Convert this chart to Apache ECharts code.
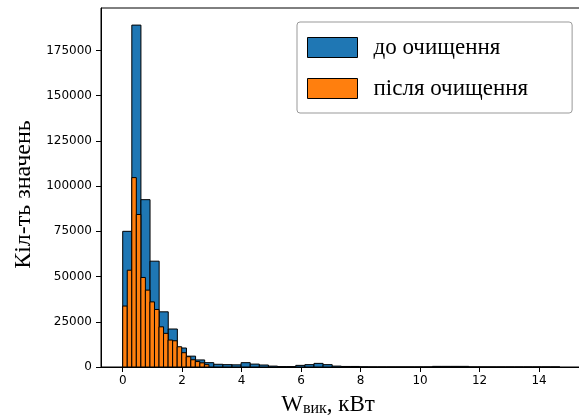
<!DOCTYPE html>
<html>
<head>
<meta charset="utf-8">
<title>Гістограма</title>
<script src="https://cdn.jsdelivr.net/npm/echarts@6/dist/echarts.min.js"></script>
<style>
	html, body { margin: 0; padding: 0; background: #fff; }
	#chart { width: 579px; height: 415px; }
</style>
</head>
<body>
<div id="chart"></div>
<script>
	// ширина кошиків гістограми, кВт
	var blueBinWidth = 0.30625;
	var orangeBinWidth = 0.1526;

	// до очищення
	var blueCounts = [75000, 189000, 92500, 58500, 30500, 21000, 10500, 6000, 3900, 2400,
		1500, 1300, 1200, 2400, 1600, 1100, 500, 200, 200, 900,
		1300, 2000, 1300, 500, 300, 300, 50, 0, 0, 0,
		0, 0, 0, 0, 350, 350, 350, 350, 0, 0,
		0, 0, 0, 0, 0, 0, 0, 0];
	// після очищення
	var orangeCounts = [33700, 53500, 104700, 84300, 49500, 42500, 36000, 31800, 22200, 18600,
		14900, 14500, 11200, 7900, 5700, 4000, 3000, 2300, 1300];

	var xTicks = [0, 2, 4, 6, 8, 10, 12, 14];
	var yTicks = [0, 25000, 50000, 75000, 100000, 125000, 150000, 175000];

	function bins(counts, w) {
		var out = [];
		for (var i = 0; i < counts.length; i++) {
			out.push([i * w, (i + 1) * w, counts[i]]);
		}
		return out;
	}

	function renderBin(params, api) {
		var p0 = api.coord([api.value(0), api.value(2)]);
		var p1 = api.coord([api.value(1), 0]);
		return {
			type: 'rect',
			shape: { x: p0[0], y: p0[1], width: p1[0] - p0[0], height: p1[1] - p0[1] },
			style: api.style({ stroke: '#000', lineWidth: 1 })
		};
	}

	var myChart = echarts.init(document.getElementById('chart'));

	var option = {
		animation: false,
		grid: {
			left: 101, right: -2, top: 8, bottom: 48,
			outerBoundsMode: 'none',
			containLabel: false,
			show: true, borderColor: '#000', borderWidth: 1
		},
		legend: {
			orient: 'vertical',
			left: 297, top: 22,
			padding: [14, 44, 13, 10],
			itemWidth: 50, itemHeight: 20, itemGap: 18,
			icon: 'rect',
			backgroundColor: '#fff',
			borderColor: '#999', borderWidth: 1, borderRadius: 3,
			textStyle: {
				fontFamily: 'Liberation Serif', fontSize: 23, color: '#000',
				lineHeight: 20, padding: [0, 0, 0, 11]
			},
			data: [
				{ name: 'до очищення', itemStyle: { color: '#1f77b4', borderColor: '#000', borderWidth: 1 } },
				{ name: 'після очищення', itemStyle: { color: '#ff7f0e', borderColor: '#000', borderWidth: 1 } }
			]
		},
		xAxis: {
			type: 'value',
			min: -0.73, max: 15.41,
			name: '{w|W}{s|вик}{r|, кВт}',
			nameLocation: 'middle',
			nameGap: 26,
			nameTextStyle: {
				padding: [0, 26, 0, 0],
				rich: {
					w: { fontFamily: 'Liberation Serif', fontSize: 23, color: '#000' },
					s: { fontFamily: 'Liberation Serif', fontSize: 16, color: '#000', verticalAlign: 'bottom', padding: [0, 0, -1, 0] },
					r: { fontFamily: 'Liberation Serif', fontSize: 23, color: '#000' }
				}
			},
			axisLine: { onZero: false, lineStyle: { color: '#000', width: 1 } },
			axisTick: { show: true, length: 5, customValues: xTicks, lineStyle: { color: '#000' } },
			axisLabel: { customValues: xTicks, margin: 8, fontFamily: 'DejaVu Sans', fontSize: 12, color: '#000' },
			splitLine: { show: false }
		},
		yAxis: {
			type: 'value',
			min: 0, max: 198450,
			name: 'Кіл-ть значень',
			nameLocation: 'middle',
			nameRotate: 90,
			nameGap: 63,
			nameTextStyle: { fontFamily: 'Liberation Serif', fontSize: 24, color: '#000', padding: [0, 14, 0, 0] },
			axisLine: { show: true, onZero: false, lineStyle: { color: '#000', width: 1 } },
			axisTick: { show: true, length: 5, customValues: yTicks, lineStyle: { color: '#000' } },
			axisLabel: {
				customValues: yTicks, margin: 9, fontFamily: 'DejaVu Sans', fontSize: 12, color: '#000',
				formatter: function (v) { return String(v); }
			},
			splitLine: { show: false }
		},
		series: [
			{
				name: 'до очищення',
				type: 'custom',
				renderItem: renderBin,
				itemStyle: { color: '#1f77b4' },
				encode: { x: [0, 1], y: 2 },
				data: bins(blueCounts, blueBinWidth)
			},
			{
				name: 'після очищення',
				type: 'custom',
				renderItem: renderBin,
				itemStyle: { color: '#ff7f0e' },
				encode: { x: [0, 1], y: 2 },
				data: bins(orangeCounts, orangeBinWidth)
			}
		]
	};

	myChart.setOption(option);
</script>
</body>
</html>
